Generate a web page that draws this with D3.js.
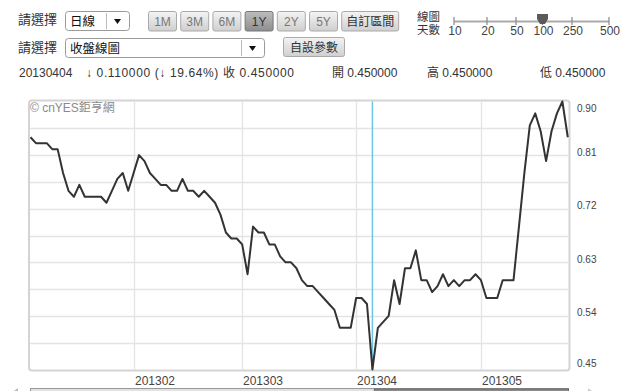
<!DOCTYPE html>
<html>
<head>
<meta charset="utf-8">
<script src="https://cdn.jsdelivr.net/npm/d3@7"></script>
<style>
  body { margin: 0; background: #fff; }
  svg { display: block; font-family: "Liberation Sans", Arial, "Noto Sans CJK TC", sans-serif; }
</style>
</head>
<body>
<svg id="chart"></svg>
<script>
// 收盤價 (100 個交易日)
const closes = [
  0.84, 0.83, 0.83, 0.83, 0.82, 0.82, 0.78, 0.75, 0.74, 0.76,
  0.74, 0.74, 0.74, 0.74, 0.73, 0.75, 0.77, 0.78, 0.75, 0.78,
  0.81, 0.80, 0.78, 0.77, 0.76, 0.76, 0.75, 0.75, 0.77, 0.75,
  0.75, 0.74, 0.75, 0.74, 0.73, 0.71, 0.68, 0.67, 0.67, 0.66,
  0.61, 0.69, 0.68, 0.68, 0.66, 0.66, 0.64, 0.63, 0.63, 0.62,
  0.60, 0.59, 0.59, 0.58, 0.57, 0.56, 0.55, 0.52, 0.52, 0.52,
  0.57, 0.57, 0.56, 0.45, 0.52, 0.53, 0.54, 0.60, 0.56, 0.62,
  0.62, 0.65, 0.60, 0.60, 0.58, 0.59, 0.61, 0.59, 0.60, 0.59,
  0.60, 0.60, 0.61, 0.60, 0.57, 0.57, 0.57, 0.60, 0.60, 0.60,
  0.69, 0.78, 0.86, 0.88, 0.85, 0.80, 0.85, 0.88, 0.90, 0.84
];
const monthIdx = [19, 39, 60, 83];
const monthLabels = ["201302", "201303", "201304", "201305"];
const yLabels = [0.90, 0.81, 0.72, 0.63, 0.54, 0.45];
const cursorIdx = 63;
const periodBtns = ["1M", "3M", "6M", "1Y", "2Y", "5Y", "自訂區間"];
const dayLabels = ["10", "20", "50", "100", "250", "500"];
const infoTexts = ["20130404", "↓ 0.110000 (↓ 19.64%) 收 0.450000", "開 0.450000", "高 0.450000", "低 0.450000"];

const W = 620, H = 391;
const svg = d3.select("#chart").attr("width", W).attr("height", H);
svg.append("rect").attr("width", W).attr("height", H).attr("fill", "#fff");

const defs = svg.append("defs");
const g1 = defs.append("linearGradient").attr("id", "btn").attr("x1", 0).attr("y1", 0).attr("x2", 0).attr("y2", 1);
g1.append("stop").attr("offset", "0%").attr("stop-color", "#f4f4f4");
g1.append("stop").attr("offset", "100%").attr("stop-color", "#cfcfcf");
const g2 = defs.append("linearGradient").attr("id", "btnOn").attr("x1", 0).attr("y1", 0).attr("x2", 0).attr("y2", 1);
g2.append("stop").attr("offset", "0%").attr("stop-color", "#bdbdbd");
g2.append("stop").attr("offset", "100%").attr("stop-color", "#8e8e8e");

// ---- 上方控制列 ----
const head = svg.append("g").attr("fill", "#333");
head.append("text").attr("x", 18).attr("y", 24).attr("font-size", 13).text("請選擇");
head.append("text").attr("x", 18).attr("y", 52).attr("font-size", 13).text("請選擇");

function selectBox(x0, y0, w, label) {
  const g = svg.append("g");
  g.append("rect").attr("x", x0 + 0.5).attr("y", y0 + 0.5).attr("width", w).attr("height", 19)
    .attr("rx", 3).attr("fill", "#fff").attr("stroke", "#9a9a9a");
  g.append("line").attr("x1", x0 + w - 22.5).attr("x2", x0 + w - 22.5).attr("y1", y0 + 2).attr("y2", y0 + 18)
    .attr("stroke", "#bbb");
  g.append("path").attr("d", `M${x0 + w - 15},${y0 + 8}h7l-3.5,5z`).attr("fill", "#111");
  g.append("text").attr("x", x0 + 5).attr("y", y0 + 15).attr("font-size", 12.5).attr("fill", "#111").text(label);
}
selectBox(65, 11, 64, "日線");
selectBox(65, 38, 199, "收盤線圖");

let bx = 148;
periodBtns.forEach(b => {
  const w = b.length > 2 ? 57 : 28;
  const on = b === "1Y";
  svg.append("rect").attr("x", bx + 0.5).attr("y", 11.5).attr("width", w).attr("height", 19.5).attr("rx", 2)
    .attr("fill", on ? "url(#btnOn)" : "url(#btn)").attr("stroke", on ? "#777" : "#aaa");
  svg.append("text").attr("x", bx + w / 2 + 0.5).attr("y", 26).attr("text-anchor", "middle")
    .attr("font-size", 12).attr("fill", on ? "#333" : (b.length > 2 ? "#333" : "#777")).text(b);
  bx += w + 4.2;
});
svg.append("rect").attr("x", 283.5).attr("y", 37.5).attr("width", 61).attr("height", 19).attr("rx", 2)
  .attr("fill", "url(#btn)").attr("stroke", "#aaa");
svg.append("text").attr("x", 314).attr("y", 52).attr("text-anchor", "middle").attr("font-size", 12)
  .attr("fill", "#333").text("自設參數");

// 線圖天數滑桿
head.append("text").attr("x", 417).attr("y", 21).attr("font-size", 11.5).text("線圖");
head.append("text").attr("x", 417).attr("y", 33.5).attr("font-size", 11.5).text("天數");
const dayPos = { "10": 454, "20": 487, "50": 516, "100": 542.5, "250": 572, "500": 609 };
svg.append("line").attr("x1", 454).attr("x2", 609).attr("y1", 21.5).attr("y2", 21.5)
  .attr("stroke", "#aaa").attr("stroke-width", 2);
dayLabels.forEach(d => {
  svg.append("line").attr("x1", dayPos[d]).attr("x2", dayPos[d]).attr("y1", 17).attr("y2", 25)
    .attr("stroke", "#888").attr("stroke-width", 1.2);
  svg.append("text").attr("x", dayPos[d] + 1).attr("y", 35).attr("text-anchor", "middle")
    .attr("font-size", 12).attr("fill", "#444").text(d);
});
svg.append("path").attr("d", "M537,14h11v5l-3,5h-5l-3,-5z").attr("fill", "#5a5a5a");

// 資訊列
const infoX = [19, 86, 332, 427, 540];
infoTexts.forEach((t, i) => {
  const tx = svg.append("text").attr("x", infoX[i]).attr("y", 77).attr("font-size", 12).attr("fill", "#333").text(t);
  if (i === 1) tx.attr("textLength", 208).attr("lengthAdjust", "spacing");
});

// ---- 主圖 ----
const pL = 29, pR = 569.5, pT = 100.5, pB = 370.5;
const x = d3.scaleLinear().domain([0, closes.length - 1]).range([30.5, 567.8]);
const y = d3.scaleLinear().domain([0.45, 0.90]).range([369.5, 101.5]);

svg.append("rect").attr("x", pL).attr("y", pT).attr("width", pR - pL).attr("height", pB - pT)
  .attr("rx", 3).attr("fill", "#fff").attr("stroke", "#d4d4d4").attr("stroke-width", 2);

const grid = svg.append("g").attr("stroke", "#e4e4e4").attr("stroke-width", 1.3);
d3.range(1, 10).map(k => 0.45 + 0.045 * k).forEach(v => {
  grid.append("line").attr("x1", pL + 1).attr("x2", pR - 1)
    .attr("y1", Math.round(y(v)) + 0.5).attr("y2", Math.round(y(v)) + 0.5);
});
monthIdx.forEach(i => {
  grid.append("line").attr("x1", Math.round(x(i)) + 0.5).attr("x2", Math.round(x(i)) + 0.5)
    .attr("y1", pT + 1).attr("y2", pB - 1);
});

svg.append("text").attr("x", 30).attr("y", 112).attr("font-size", 12).attr("fill", "#8a8a8a")
  .text("© cnYES鉅亨網");

svg.append("line").attr("x1", x(cursorIdx)).attr("x2", x(cursorIdx)).attr("y1", pT + 1).attr("y2", pB - 1)
  .attr("stroke", "#6cc4e6").attr("stroke-width", 1.5);

const line = d3.line().x((d, i) => x(i)).y(d => y(d));
svg.append("path").datum(closes).attr("d", line).attr("fill", "none")
  .attr("stroke", "#333").attr("stroke-width", 2).attr("stroke-linejoin", "round");

// Y 軸標籤
yLabels.forEach(v => {
  const yy = Math.max(112, Math.min(367, y(v) + 0.5));
  svg.append("text").attr("x", 577).attr("y", yy).attr("font-size", 10).attr("fill", "#444")
    .text(v.toFixed(2));
});

// X 軸標籤
monthIdx.forEach((i, k) => {
  svg.append("text").attr("x", Math.round(x(i)) + 1).attr("y", 385).attr("font-size", 12)
    .attr("fill", "#444").text(monthLabels[k]);
});

// 下方捲軸
svg.append("rect").attr("x", 30.5).attr("y", 388.5).attr("width", 538).attr("height", 6)
  .attr("fill", "#e2e2e2").attr("stroke", "#999");
svg.append("rect").attr("x", x(cursorIdx) + 2).attr("y", 389).attr("width", 568.5 - x(cursorIdx) - 2).attr("height", 5)
  .attr("fill", "#8c8c8c").attr("stroke", "#666");
svg.append("path").attr("d", "M14,391l4,-3v3z").attr("fill", "#bbb");
svg.append("path").attr("d", "M588,388l4,3h-4z").attr("fill", "#ccc");
</script>
</body>
</html>
